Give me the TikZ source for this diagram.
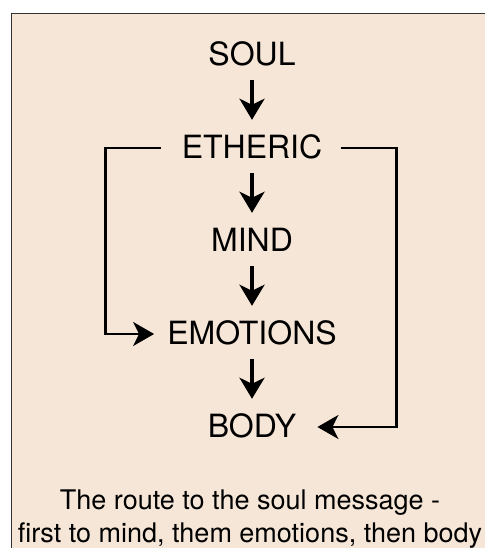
\documentclass[tikz,border=0pt]{standalone}
\usepackage{fontspec}
\setmainfont{TeX Gyre Heros}
\usetikzlibrary{arrows.meta,positioning}
\definecolor{paperPeach}{HTML}{F6E6D7}
\definecolor{frameGrey}{HTML}{333333}

\begin{document}
\begin{tikzpicture}[x=1pt,y=1pt,node distance=93pt,on grid,
  level/.style={inner sep=0pt,text height=22pt,text depth=0pt,font=\fontsize{32}{38}\selectfont},
  flow/.style={-{Stealth[length=21pt,width=25pt,inset=6pt]},line width=4pt,shorten <=14pt,shorten >=17pt},
  detour/.style={-{Stealth[length=21pt,width=24pt,inset=6pt]},line width=2.3pt}]
  \useasboundingbox (0,0) rectangle (484,548);
  \draw[frameGrey,line width=1.5pt,fill=paperPeach] (11.5,-20) rectangle (520,534.5);
  % the chain of levels
  \node[level] (soul) at (252,493) {SOUL};
  \node[level,below=of soul] (etheric) {ETHERIC};
  \node[level,below=of etheric] (mind) {MIND};
  \node[level,below=of mind] (emotions) {EMOTIONS};
  \node[level,below=of emotions] (body) {BODY};
  \node[below=92pt of body,xshift=-2pt,align=center,font=\fontsize{27}{33}\selectfont] (caption) {The route to the soul message -\\first to mind, them emotions, then body};
  \draw[flow] (soul) -- (etheric);
  \draw[flow] (etheric) -- (mind);
  \draw[flow] (mind) -- (emotions);
  \draw[flow] (emotions) -- (body);
  % side routes
  \draw[detour,shorten <=21pt,shorten >=13pt] (etheric.west) -- ++(-76,0) |- (emotions.west);
  \draw[detour,shorten <=19pt,shorten >=21pt] (etheric.east) -- ++(74,0) |- (body.east);
\end{tikzpicture}
\end{document}
